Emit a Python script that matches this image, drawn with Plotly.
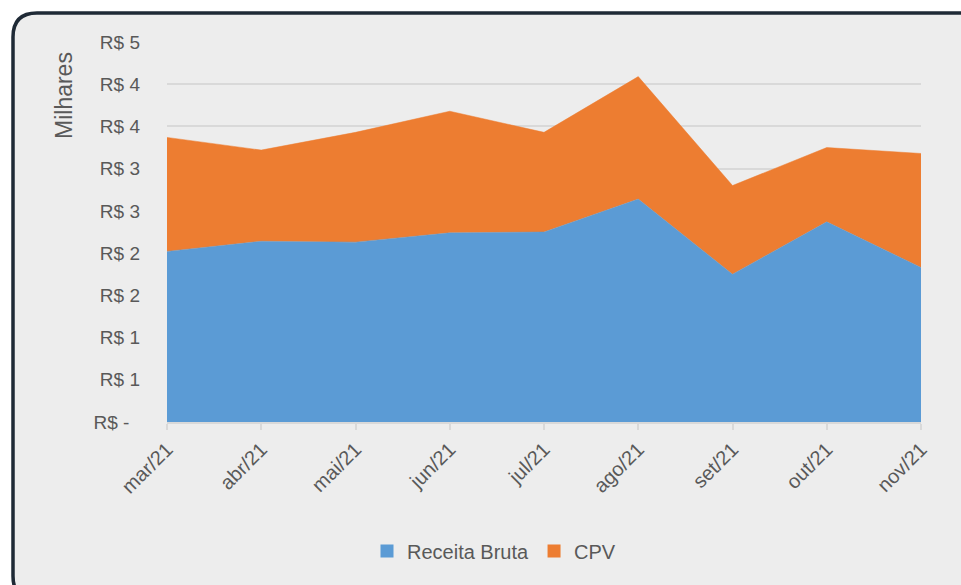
import plotly.graph_objects as go

# ---- data (values in thousands of R$) ----
months = ["mar/21", "abr/21", "mai/21", "jun/21", "jul/21", "ago/21", "set/21", "out/21", "nov/21"]
receita_bruta = [2.02, 2.14, 2.13, 2.24, 2.25, 2.64, 1.75, 2.37, 1.83]
cpv = [1.35, 1.08, 1.30, 1.44, 1.18, 1.45, 1.05, 0.88, 1.35]
y_tick_vals = [0, 0.5, 1.0, 1.5, 2.0, 2.5, 3.0, 3.5, 4.0, 4.5]
y_tick_text = ["R$ -\u00a0\u00a0", "R$ 1", "R$ 1", "R$ 2", "R$ 2", "R$ 3", "R$ 3", "R$ 4", "R$ 4", "R$ 5"]

W, H = 961, 585
L, R, T, B = 167, 921, 42, 422  # plot area pixels

def px(x):
    return (x - L) / (R - L)

def py(y):
    return (B - y) / (B - T)

FONT = "Liberation Sans, Arial"
TXT = "#595959"
BLUE = "#5B9BD5"
ORANGE = "#ED7D31"

fig = go.Figure()
fig.add_trace(go.Scatter(x=months, y=receita_bruta, name="Receita Bruta", stackgroup="one",
                         mode="lines", line=dict(width=0.5, color=BLUE),
                         fillcolor=BLUE, showlegend=False))
fig.add_trace(go.Scatter(x=months, y=cpv, name="CPV", stackgroup="one",
                         mode="lines", line=dict(width=0.5, color=ORANGE),
                         fillcolor=ORANGE, showlegend=False))
# legend entries with square swatches
for name, col in [("Receita Bruta", BLUE), ("CPV", ORANGE)]:
    fig.add_trace(go.Scatter(x=[None], y=[None], name=name, mode="markers",
                             marker=dict(symbol="square", size=13, color=col), showlegend=True))

# rounded frame
x0, y0, x1, y1, r = 13, 13, 990, 600, 24
path = (f"M {px(x0)},{py(y0 + r)} "
        f"Q {px(x0)},{py(y0)} {px(x0 + r)},{py(y0)} "
        f"L {px(x1 - r)},{py(y0)} Q {px(x1)},{py(y0)} {px(x1)},{py(y0 + r)} "
        f"L {px(x1)},{py(y1 - r)} Q {px(x1)},{py(y1)} {px(x1 - r)},{py(y1)} "
        f"L {px(x0 + r)},{py(y1)} Q {px(x0)},{py(y1)} {px(x0)},{py(y1 - r)} Z")
fig.add_shape(type="path", path=path, xref="paper", yref="paper",
              line=dict(color="#1F2A36", width=3.5), fillcolor="#EDEDED", layer="below")

fig.add_annotation(text="Milhares", xref="paper", yref="paper", x=px(64), y=py(96),
                   showarrow=False, textangle=-90, font=dict(family=FONT, size=23, color=TXT),
                   xanchor="center", yanchor="middle")

fig.update_layout(
    width=W, height=H,
    margin=dict(l=L, r=W - R, t=T, b=H - B),
    paper_bgcolor="white",
    plot_bgcolor="rgba(0,0,0,0)",
    font=dict(family=FONT, size=18, color=TXT),
    showlegend=True,
    legend=dict(orientation="h", xanchor="center", yanchor="middle",
                x=px(494), y=py(551), font=dict(family=FONT, size=20, color=TXT),
                bgcolor="rgba(0,0,0,0)", traceorder="normal", itemwidth=30),
    xaxis=dict(type="category", range=[0, len(months) - 1], showgrid=False,
               showline=True, linecolor="#D9D9D9", linewidth=1.5,
               ticks="outside", ticklen=6, tickcolor="#D9D9D9", tickwidth=1.5,
               tickangle=-45, tickfont=dict(family=FONT, size=20, color=TXT)),
    yaxis=dict(range=[0, 4.5], tickvals=y_tick_vals, ticktext=y_tick_text,
               showgrid=True, gridcolor="#D9D9D9", gridwidth=1.5, zeroline=False,
               showline=False, ticks="", ticklabelstandoff=26,
               tickfont=dict(family=FONT, size=19, color=TXT)),
)

fig.write_html("out.html", config={"displayModeBar": False},
               post_script="document.body.style.margin='0';")
